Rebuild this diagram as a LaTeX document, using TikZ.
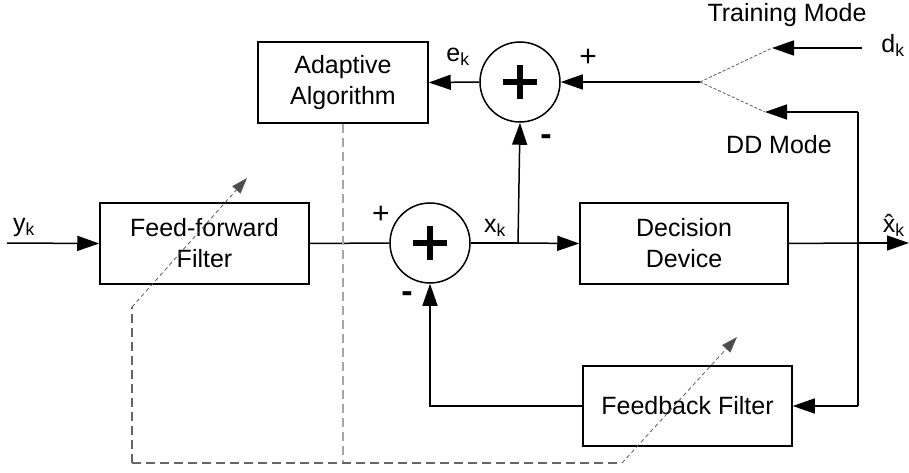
\documentclass[tikz,border=0pt]{standalone}
\usepackage{fontspec}
\setmainfont{Liberation Sans}
\usetikzlibrary{arrows.meta}
\begin{document}
\begin{tikzpicture}[x=1pt,y=-1pt,line width=1.5pt,
  block/.style={draw,align=center,inner sep=0pt,minimum height=81pt,
    font=\fontsize{25}{31}\selectfont},
  summer/.style={draw,circle,minimum size=80pt,inner sep=0pt},
  lbl/.style={inner sep=0pt,font=\fontsize{25}{25}\selectfont},
  sgn/.style={inner sep=0pt,font=\fontsize{30}{30}\selectfont},
  neg/.style={inner sep=0pt,font=\fontsize{34}{34}\selectfont\bfseries},
  sig/.style={-{Triangle[length=22pt,width=15pt]}},
  tune/.style={gray!70!black,line width=0.8pt,dash pattern=on 4pt off 3pt,
    -{Triangle[length=16pt,width=11pt,fill=gray!60!black]}},
  ctrl/.style={gray!80!black,line width=1.1pt,dash pattern=on 9pt off 5pt},
  mode/.style={gray!70!black,line width=0.8pt,dash pattern=on 3pt off 2pt}]
\useasboundingbox (0,0) rectangle (909,473);

% blocks
\node[block,minimum width=170pt] (adapt) at (343,82.5) {Adaptive\\Algorithm};
\node[block,minimum width=209pt] (ff) at (204.5,243.5) {Feed-forward\\Filter};
\node[block,minimum width=208pt] (dd) at (684,243.5) {Decision\\Device};
\node[block,minimum width=209pt,minimum height=80pt] (fb) at (687.5,406) {Feedback Filter};

% summing junctions
\node[summer] (s1) at (520,82) {};
\node[summer] (s2) at (430,243) {};
\foreach \s in {s1,s2}{
  \draw[line width=6pt] ([xshift=-17pt]\s.center) -- ([xshift=17pt]\s.center);
  \draw[line width=6pt] ([yshift=-17pt]\s.center) -- ([yshift=17pt]\s.center);
}

% helper points
\coordinate (yin) at (7,243);
\coordinate (xj) at (518,243);
\coordinate (oj) at (858,243);
\coordinate (xout) at (909,243);
\coordinate (split) at (700,82);
\coordinate (trn) at (772,48);
\coordinate (dsrc) at (862,48);
\coordinate (ddm) at (765,112);
\coordinate (ddc) at (858,112);
\coordinate (fbc) at (858,406);
\coordinate (fbt) at (430,406);
\coordinate (ab) at (343,463);
\coordinate (bl) at (132,463);
\coordinate (br) at (622,463);
\coordinate (blk) at (132,307);
\coordinate (fft) at (247,178);
\coordinate (fbtip) at (737,337);

% signal paths
\draw[sig] (yin) -- (ff.west);
\draw (ff.east) -- (s2.west);
\draw (s2.east) -- (xj);
\draw[sig] (xj) -- (dd.west);
\draw[sig] (xj) -- (s1.south);
\draw (dd.east) -- (oj);
\draw[sig] (oj) -- (xout);
\draw[sig] (s1.west) -- (adapt.east);
\draw[sig] (split) -- (s1.east);
\draw[sig] (dsrc) -- (trn);
\draw[sig] (ddc) -- (ddm);
\draw (oj) -- (ddc);
\draw (oj) -- (fbc);
\draw[sig] (fbc) -- (fb.east);
\draw[sig] (fb.west) -- (fbt) -- (s2.south);

% mode switch
\draw[mode] (split) -- (trn);
\draw[mode] (split) -- (ddm);

% adaptation paths
\draw[ctrl,gray!70] (adapt.south) -- (ab);
\draw[ctrl] (bl) -- (br);
\draw[ctrl] (bl) -- (blk);
\draw[tune] (blk) -- (fft);
\draw[tune] (br) -- (fbtip);

% labels
\node[lbl] (ek) at (458,57) {e\textsubscript{k}};
\node[lbl] (xk) at (495,228) {x\textsubscript{k}};
\node[lbl] (yk) at (24,227) {y\textsubscript{k}};
\node[lbl] (dk) at (893,45) {d\textsubscript{k}};
\node[lbl,anchor=base west] (xhk) at (882,232) {\^{x}\textsubscript{k}};
\node[lbl] (trm) at (787,15) {Training Mode};
\node[lbl] (ddmode) at (779,145) {DD Mode};
\node[sgn] (p1) at (588,58) {+};
\node[neg] (m1) at (546,140) {-};
\node[sgn] (p2) at (381,215) {+};
\node[neg] (m2) at (407,297) {-};
\end{tikzpicture}
\end{document}
